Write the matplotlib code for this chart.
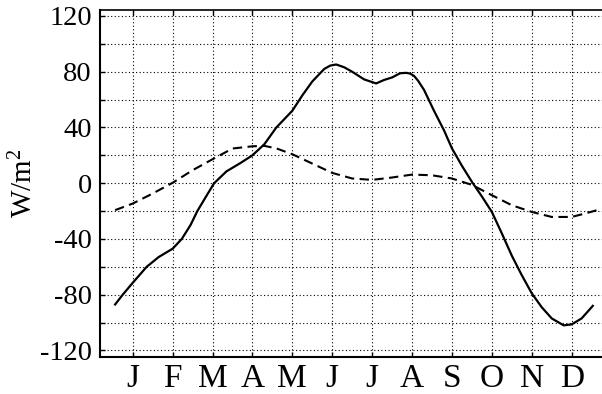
import matplotlib
matplotlib.use('Agg')
import matplotlib.pyplot as plt
from matplotlib.ticker import MultipleLocator

plt.rcParams['font.family'] = 'Liberation Serif'
plt.rcParams['mathtext.fontset'] = 'custom'
plt.rcParams['mathtext.rm'] = 'Liberation Serif'
plt.rcParams['mathtext.it'] = 'Liberation Serif:italic'
plt.rcParams['axes.unicode_minus'] = False

# month labels (tick at 1 = January ... 12 = December)
months = ['J', 'F', 'M', 'A', 'M', 'J', 'J', 'A', 'S', 'O', 'N', 'D']
month_pos = list(range(1, 13))

# solid curve (x in months, y in W/m^2)
solid_x = [0.56, 0.75, 1.0, 1.35, 1.65, 2.0, 2.23, 2.45, 2.62, 2.85, 3.04, 3.35, 3.7,
           4.0, 4.3, 4.6, 5.0, 5.25, 5.5, 5.8, 5.95, 6.1, 6.3, 6.5, 6.8, 7.1, 7.3,
           7.5, 7.7, 7.85, 7.95, 8.05, 8.15, 8.3, 8.55, 8.8, 9.0, 9.25, 9.5, 9.75,
           10.0, 10.25, 10.5, 10.75, 11.0, 11.25, 11.5, 11.8, 12.0, 12.25, 12.53]
solid_y = [-87, -80, -71.5, -60, -53, -47, -40, -30, -20, -9, 0, 8.5, 14.5,
           20, 28, 40, 52, 63, 73, 82, 84.4, 85.2, 83.2, 80, 74.5, 71.6, 74.1,
           75.9, 78.9, 79.2, 78.7, 77, 73.6, 67, 52, 38, 25, 12.5, 1, -9.5,
           -20.6, -36, -52, -66, -79, -89, -97, -102, -101.3, -97, -88]

# dashed curve
dashed_x = [0.56, 1.0, 1.5, 2.0, 2.5, 3.0, 3.5, 4.0, 4.3, 4.6, 5.0, 5.5, 6.0, 6.5,
            7.0, 7.5, 8.0, 8.5, 9.0, 9.5, 10.0, 10.5, 11.0, 11.5, 12.0, 12.3, 12.63]
dashed_y = [-19.3, -14.6, -7.4, 0.3, 9.3, 17.2, 24.9, 26.5, 26.8, 25, 20.8, 14.1, 7.4, 3.4,
            2.4, 4.1, 6.2, 5.7, 3.4, -1.2, -8.6, -15.8, -20.6, -24.2, -24.2, -22, -19.4]

fig = plt.figure(figsize=(6.02, 3.94), dpi=100)
ax = fig.add_axes([100 / 602, 37 / 394, 502 / 602, 347 / 394])

ax.plot(solid_x, solid_y, color='black', lw=1.6, solid_joinstyle='round')
ax.plot(dashed_x, dashed_y, color='black', lw=1.5, linestyle=(0, (4.5, 2.6)))

ax.set_xlim(0.181, 12.76)
ax.set_ylim(-124.7, 124.3)

ax.set_xticks(month_pos)
ax.set_xticklabels(months)
ax.yaxis.set_major_locator(MultipleLocator(40))
ax.yaxis.set_minor_locator(MultipleLocator(20))

ax.grid(True, which='both', color='black', linestyle=(0, (1, 2.2)), lw=0.8)

ax.tick_params(axis='both', which='both', direction='in', length=3.6, width=1,
               top=True, right=False)
ax.tick_params(axis='y', labelsize=20.5, pad=5.8)
ax.tick_params(axis='x', labelsize=24, pad=4.5)

for s in ['left', 'bottom']:
    ax.spines[s].set_linewidth(1.5)
ax.spines['top'].set_linewidth(1.2)
ax.spines['right'].set_visible(False)

ax.set_ylabel('W/m$^2$', fontsize=21)
ax.yaxis.set_label_coords(-0.123, 0.5)

fig.savefig('out.png', dpi=100)
